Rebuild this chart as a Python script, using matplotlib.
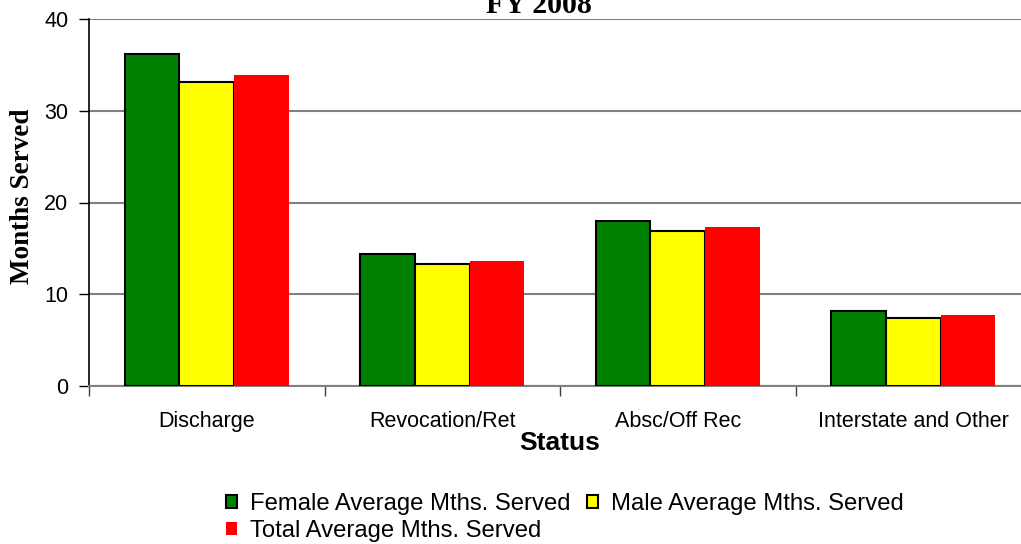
import numpy as np
import matplotlib
matplotlib.use("Agg")
import matplotlib.pyplot as plt
from matplotlib.patches import Patch

# values
categories = ["Discharge", "Revocation/Ret", "Absc/Off Rec", "Interstate and Other"]
female = [36.15, 14.4, 18.0, 8.2]
male = [33.1, 13.3, 16.9, 7.4]
total = [33.85, 13.6, 17.3, 7.7]
series_names = ["Female Average Mths. Served", "Male Average Mths. Served",
                "Total Average Mths. Served"]
yticks = [0, 10, 20, 30, 40]

sans = "Liberation Sans"
serif = "Liberation Serif"

fig = plt.figure(figsize=(10.21, 5.44), dpi=100)
ax = fig.add_axes([89 / 1021, 1 - 386 / 544, 942 / 1021, 367 / 544])

x = np.arange(len(categories))
w = 0.232
ax.bar(x - w, female, w, color="#008000", edgecolor="black", linewidth=1.5, zorder=3)
ax.bar(x, male, w, color="#ffff00", edgecolor="black", linewidth=1.5, zorder=3)
ax.bar(x + w, total, w, color="#ff0000", linewidth=0, zorder=3)

ax.set_xlim(-0.5, len(categories) - 0.5)
ax.set_ylim(0, 40)
ax.set_yticks(yticks)
ax.yaxis.grid(True, color="#808080", linewidth=1.5, zorder=0)
ax.set_axisbelow(True)

# tick marks on category borders, labels at centres
ax.set_xticks(np.arange(len(categories)) - 0.5)
ax.set_xticklabels([])
ax.set_xticks(x, minor=True)
ax.set_xticklabels(categories, minor=True, fontfamily=sans, fontsize=15.5)
ax.tick_params(axis="x", which="major", length=7, width=1, color="#404040", direction="out")
ax.tick_params(axis="x", which="minor", length=0, pad=18)
ax.tick_params(axis="y", length=7, width=1, direction="out", pad=8)
for lab in ax.get_yticklabels():
    lab.set_fontfamily(sans)
    lab.set_fontsize(15.5)

for s in ["top", "right"]:
    ax.spines[s].set_visible(False)
ax.spines["left"].set_linewidth(1.2)
ax.spines["bottom"].set_color("#808080")
ax.spines["bottom"].set_linewidth(1.5)

ax.set_xlabel("Status", fontfamily=sans, fontweight="bold", fontsize=19, labelpad=-1)

fig.text(23 / 1021, 1 - 196 / 544, "Months Served", rotation=90, ha="center", va="center",
         fontfamily=serif, fontweight="bold", fontsize=19.5)
fig.text(539 / 1021, 1 - 13 / 544, "FY 2008", ha="center", va="baseline",
         fontfamily=serif, fontweight="bold", fontsize=21.5)

handles = [Patch(facecolor="#008000", edgecolor="black", linewidth=1.5),
           Patch(facecolor="#ff0000", edgecolor="none"),
           Patch(facecolor="#ffff00", edgecolor="black", linewidth=1.5)]
labels = [series_names[0], series_names[2], series_names[1]]
fig.legend(handles, labels, ncol=2, loc="upper left", bbox_to_anchor=(226 / 1021, 1 - 493 / 544),
           frameon=False, prop={"family": sans, "size": 17.2}, handlelength=0.45,
           handleheight=0.45, handletextpad=0.55, columnspacing=0.7, labelspacing=0.2,
           borderpad=0, borderaxespad=0)

fig.savefig("out.png", dpi=100)
